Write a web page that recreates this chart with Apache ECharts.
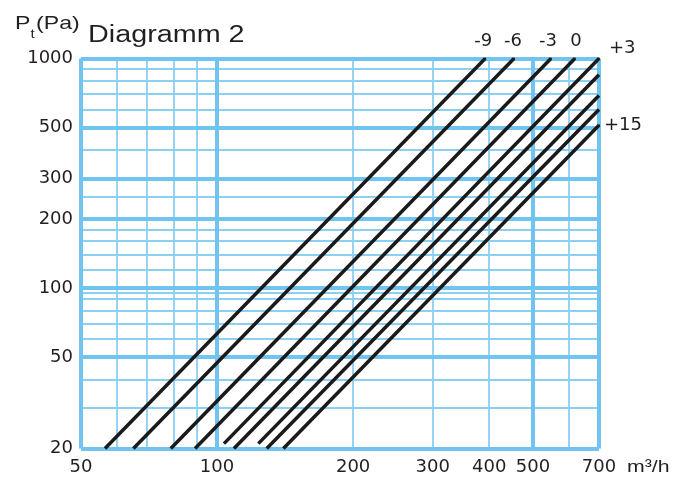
<!DOCTYPE html>
<html>
<head>
<meta charset="utf-8">
<script src="https://cdn.jsdelivr.net/npm/echarts@6/dist/echarts.min.js"></script>
<style>
  html, body { margin: 0; padding: 0; background: #ffffff; }
  #chart { width: 686px; height: 478px; }
</style>
</head>
<body>
<div id="chart"></div>
<script>
// Pressure-loss lines, P ~ Q^2, one per setting (labels -9 … +15)
const lineNames = ['-9', '-6', '-3', '0', '+3', '+6', '+9', '+12', '+15'];
const startFlow = [56.5, 65.3, 79.0, 89.4, 103.6, 109.0, 123.4, 128.8, 140.2];
const startPressure = [20, 20, 20, 20, 21, 20, 21, 20, 20];
const endFlow = [392, 454, 548, 619, 700, 700, 700, 700, 700];
const endPressure = [1000, 1000, 1000, 1000, 1000, 850, 690, 600, 512];

// Axis tick labels
const xTickLabels = [50, 100, 200, 300, 400, 500, 700];
const yTickLabels = [20, 50, 100, 200, 300, 500, 1000];

// Grid lines of the log paper
const xMajorGrid = [50, 100, 500, 700];
const xMinorGrid = [60, 70, 80, 90, 200, 300, 400, 600];
const yMajorGrid = [20, 50, 100, 200, 300, 500, 1000];
const yMinorGrid = [30, 40, 60, 70, 80, 90, 95, 120, 140, 160, 180, 250, 400, 600, 700, 800, 900];

const TEXT = '#231f20';
const MINOR_COLOR = '#8bcff3';
const MAJOR_COLOR = '#70c4ef';
const LABEL_FONT = 'DejaVu Sans';
const LABEL_SIZE = 18;
const TITLE_FONT = 'Liberation Sans, Arial, sans-serif';

// Which line gets a label, and where it sits relative to its upper end
const labelPlacement = {
  '-9':  { position: 'top', distance: 7, offset: [-2, 0] },
  '-6':  { position: 'top', distance: 7, offset: [-1, 0] },
  '-3':  { position: 'top', distance: 7, offset: [-3, 0] },
  '0':   { position: 'top', distance: 7, offset: [1, 0] },
  '+3':  { position: 'right', distance: 9, offset: [0, -10] },
  '+15': { position: 'right', distance: 4, offset: [0, 0] }
};

const gridMarks = [];
xMinorGrid.forEach(v => gridMarks.push({ xAxis: v, lineStyle: { color: MINOR_COLOR, width: 1.8, type: 'solid' } }));
yMinorGrid.forEach(v => gridMarks.push({ yAxis: v, lineStyle: { color: MINOR_COLOR, width: 1.8, type: 'solid' } }));
yMajorGrid.forEach(v => gridMarks.push({ yAxis: v, lineStyle: { color: MAJOR_COLOR, width: 4, type: 'solid' } }));
xMajorGrid.forEach(v => gridMarks.push({ xAxis: v, lineStyle: { color: MAJOR_COLOR, width: 4, type: 'solid' } }));

const curveSeries = lineNames.map((name, i) => {
  const place = labelPlacement[name];
  const startPoint = { value: [startFlow[i], startPressure[i]], symbol: 'none' };
  const endPoint = { value: [endFlow[i], endPressure[i]], symbol: 'none' };
  if (place) {
    // a tiny symbol carries the label at the upper end of the line
    endPoint.symbol = 'circle';
    endPoint.symbolSize = 2;
    endPoint.label = {
      show: true,
      formatter: name,
      position: place.position,
      distance: place.distance,
      offset: place.offset,
      fontFamily: LABEL_FONT,
      fontSize: LABEL_SIZE,
      color: TEXT
    };
  }
  return {
    name: name,
    type: 'line',
    z: 5,
    silent: true,
    showSymbol: true,
    clip: false,
    itemStyle: { color: '#1a1a1a' },
    lineStyle: { color: '#1a1a1a', width: 3.5, cap: 'butt' },
    label: { show: false },
    data: [startPoint, endPoint]
  };
});

const chart = echarts.init(document.getElementById('chart'), null, { renderer: 'canvas' });

chart.setOption({
  animation: false,
  backgroundColor: '#ffffff',
  grid: { left: 81, right: 87, top: 58.5, bottom: 29.5 },
  xAxis: {
    type: 'log',
    logBase: 10,
    min: 50,
    max: 700,
    axisLine: { show: false },
    axisTick: { show: false },
    splitLine: { show: false },
    minorSplitLine: { show: false },
    axisLabel: {
      customValues: xTickLabels,
      formatter: v => String(v),
      showMinLabel: true,
      showMaxLabel: true,
      margin: 10,
      fontFamily: LABEL_FONT,
      fontSize: LABEL_SIZE,
      color: TEXT
    }
  },
  yAxis: {
    type: 'log',
    logBase: 10,
    min: 20,
    max: 1000,
    axisLine: { show: false },
    axisTick: { show: false },
    splitLine: { show: false },
    minorSplitLine: { show: false },
    axisLabel: {
      customValues: yTickLabels,
      formatter: v => String(v),
      showMinLabel: true,
      showMaxLabel: true,
      margin: 8,
      fontFamily: LABEL_FONT,
      fontSize: LABEL_SIZE,
      color: TEXT
    }
  },
  graphic: [
    { type: 'text', x: 88, y: 36, scaleX: 1.25, style: { text: 'Diagramm 2', fontFamily: TITLE_FONT, fontSize: 23, fill: TEXT, textVerticalAlign: 'middle' } },
    { type: 'text', x: 15, y: 24, scaleX: 1.25, style: { text: 'P', fontFamily: TITLE_FONT, fontSize: 18.5, fill: TEXT, textVerticalAlign: 'middle' } },
    { type: 'text', x: 30.5, y: 34.5, scaleX: 1.25, style: { text: 't', fontFamily: TITLE_FONT, fontSize: 12, fill: TEXT, textVerticalAlign: 'middle' } },
    { type: 'text', x: 36, y: 24, scaleX: 1.25, style: { text: '(Pa)', fontFamily: TITLE_FONT, fontSize: 18.5, fill: TEXT, textVerticalAlign: 'middle' } },
    { type: 'text', x: 627, y: 467, scaleX: 1.25, style: { text: 'm³/h', fontFamily: TITLE_FONT, fontSize: 17, fill: TEXT, textVerticalAlign: 'middle' } }
  ],
  series: [
    {
      name: 'grid',
      type: 'line',
      z: 1,
      silent: true,
      symbol: 'none',
      lineStyle: { opacity: 0, width: 0 },
      data: [[50, 20], [700, 1000]],
      markLine: {
        silent: true,
        symbol: ['none', 'none'],
        label: { show: false },
        emphasis: { disabled: true },
        animation: false,
        data: gridMarks
      }
    }
  ].concat(curveSeries)
});
</script>
</body>
</html>
